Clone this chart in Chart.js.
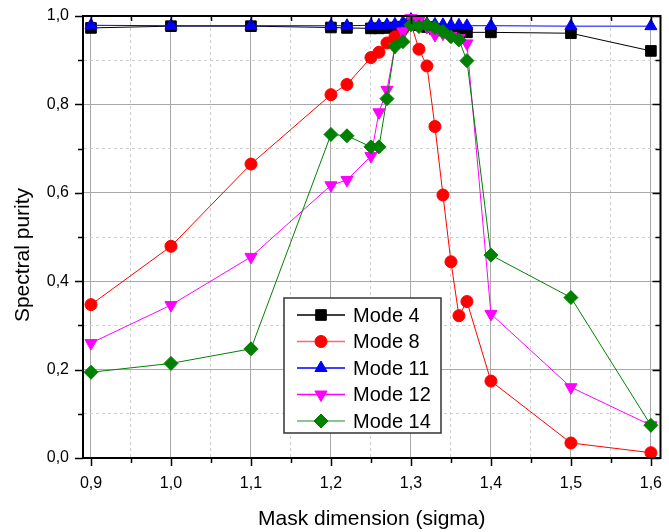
<!DOCTYPE html>
<html>
<head>
<meta charset="utf-8">
<script src="https://cdn.jsdelivr.net/npm/chart.js@4.4.1/dist/chart.umd.min.js"></script>
<style>
  html, body { margin: 0; padding: 0; background: #fff; }
</style>
</head>
<body>
<canvas id="purityChart" width="669" height="532"></canvas>
<script>
// mask dimension (sigma) — shared x values for all modes
const sigma = [0.9, 1.0, 1.1, 1.2, 1.22, 1.25, 1.26, 1.27, 1.28, 1.29, 1.3,
               1.31, 1.32, 1.33, 1.34, 1.35, 1.36, 1.37, 1.4, 1.5, 1.6];

const mode4  = [0.973, 0.977, 0.977, 0.974, 0.973, 0.972, 0.972, 0.973, 0.974, 0.976, 0.982,
                0.979, 0.975, 0.97, 0.967, 0.965, 0.964, 0.963, 0.963, 0.961, 0.921];
const mode8  = [0.347, 0.479, 0.665, 0.822, 0.845, 0.906, 0.918, 0.939, 0.953, 0.97, 0.983,
                0.925, 0.887, 0.75, 0.595, 0.444, 0.322, 0.354, 0.174, 0.034, 0.012];
const mode11 = [0.979, 0.978, 0.978, 0.978, 0.978, 0.979, 0.979, 0.98, 0.981, 0.985, 0.992,
                0.986, 0.982, 0.981, 0.98, 0.979, 0.979, 0.978, 0.978, 0.977, 0.977];
const mode12 = [0.26, 0.346, 0.455, 0.617, 0.629, 0.683, 0.782, 0.833, 0.93, 0.965, 0.995,
                0.99, 0.975, 0.957, 0.96, 0.955, 0.95, 0.938, 0.326, 0.16, 0.074];
const mode14 = [0.194, 0.214, 0.247, 0.732, 0.729, 0.704, 0.704, 0.813, 0.931, 0.942, 0.98,
                0.976, 0.98, 0.974, 0.965, 0.953, 0.946, 0.899, 0.459, 0.363, 0.074];

const seriesNames = ["Mode 4", "Mode 8", "Mode 11", "Mode 12", "Mode 14"];

// tick positions
const xMajor = [0.9, 1.0, 1.1, 1.2, 1.3, 1.4, 1.5, 1.6];
const xMinor = [0.95, 1.05, 1.15, 1.25, 1.35, 1.45, 1.55];
const yMajor = [0, 0.2, 0.4, 0.6, 0.8, 1.0];
const yMinor = [0.1, 0.3, 0.5, 0.7, 0.9];

const FONT = "'Liberation Sans', Arial, sans-serif";

function isIn(v, list) {
  return list.some(m => Math.abs(m - v) < 1e-6);
}
function fmt(v) {
  return v.toFixed(1).replace(".", ",");
}

function makeSet(i, values, color, style, radius, rotation) {
  return {
    label: seriesNames[i],
    data: sigma.map((x, k) => ({ x: x, y: values[k] })),
    borderColor: color,
    backgroundColor: color,
    borderWidth: 1,
    pointStyle: style,
    pointRadius: radius,
    pointHoverRadius: radius,
    pointRotation: rotation || 0,
    pointBorderWidth: 1,
    pointBorderColor: color,
    pointBackgroundColor: color,
    tension: 0,
    clip: false,
    order: 5 - i   // later modes drawn on top
  };
}

const datasets = [
  makeSet(0, mode4,  "#000000", "rect", 7.5),
  makeSet(1, mode8,  "#ff0000", "circle", 6),
  makeSet(2, mode11, "#0000ff", "triangle", 7),
  makeSet(3, mode12, "#ff00ff", "triangle", 7, 180),
  makeSet(4, mode14, "#008000", "rectRot", 7)
];

// frame on top/right, tick marks, axis titles and legend box
const decorPlugin = {
  id: "decor",
  afterDatasetsDraw(chart) {
    const { ctx, chartArea: a, scales } = chart;
    ctx.save();
    ctx.strokeStyle = "#000";
    ctx.lineWidth = 1.5;
    ctx.beginPath();
    xMajor.concat(xMinor).forEach(v => {
      const px = Math.round(scales.x.getPixelForValue(v)) + 0.5;
      const len = isIn(v, xMajor) ? 8 : 5;
      ctx.moveTo(px, a.bottom); ctx.lineTo(px, a.bottom + len);
      ctx.moveTo(px, a.top); ctx.lineTo(px, a.top + len);
    });
    yMajor.concat(yMinor).forEach(v => {
      const py = Math.round(scales.y.getPixelForValue(v)) + 0.5;
      const len = isIn(v, yMajor) ? 8 : 5;
      ctx.moveTo(a.left - len, py); ctx.lineTo(a.left, py);
      ctx.moveTo(a.right - len, py); ctx.lineTo(a.right, py);
    });
    ctx.stroke();

    ctx.lineWidth = 2;
    ctx.strokeRect(a.left, a.top, a.right - a.left, a.bottom - a.top);

    // axis titles
    ctx.fillStyle = "#000";
    ctx.font = "21px " + FONT;
    ctx.textAlign = "center";
    ctx.textBaseline = "alphabetic";
    ctx.fillText("Mask dimension (sigma)", (a.left + a.right) / 2, 525);
    ctx.translate(29, 255);
    ctx.rotate(-Math.PI / 2);
    ctx.fillText("Spectral purity", 0, 0);
    ctx.restore();
  },
  afterDraw(chart) {
    const ctx = chart.ctx;
    const box = { x: 284, y: 298, w: 157, h: 135 };
    ctx.save();
    ctx.fillStyle = "#fff";
    ctx.fillRect(box.x, box.y, box.w, box.h);
    ctx.strokeStyle = "#333";
    ctx.lineWidth = 1.5;
    ctx.strokeRect(box.x, box.y, box.w, box.h);

    chart.data.datasets.forEach((ds, i) => {
      const cy = 315 + i * 26.5;
      ctx.strokeStyle = ds.borderColor;
      ctx.globalAlpha = (i === 1 || i === 4) ? 0.6 : 1;
      ctx.lineWidth = 1.6;
      ctx.beginPath();
      ctx.moveTo(297, cy); ctx.lineTo(345, cy);
      ctx.stroke();
      ctx.globalAlpha = 1;
      ctx.fillStyle = ds.backgroundColor;
      ctx.strokeStyle = ds.borderColor;
      ctx.lineWidth = 1;
      if (Chart.helpers && Chart.helpers.drawPoint) {
        Chart.helpers.drawPoint(ctx, {
          pointStyle: ds.pointStyle,
          radius: ds.pointRadius,
          rotation: ds.pointRotation,
          borderWidth: 1
        }, 321, cy);
      } else {
        ctx.beginPath(); ctx.arc(321, cy, 6, 0, Math.PI * 2); ctx.fill();
      }
      ctx.fillStyle = "#000";
      ctx.font = "20px " + FONT;
      ctx.textAlign = "left";
      ctx.textBaseline = "middle";
      ctx.fillText(ds.label, 353, cy + 1);
    });
    ctx.restore();
  }
};

function gridColor(list) {
  return c => (c.tick && isIn(c.tick.value, list)) ? "#a8a8a8" : "#cfcfcf";
}
function gridDash(list) {
  return c => (c.tick && isIn(c.tick.value, list)) ? [] : [3, 3];
}

new Chart(document.getElementById("purityChart"), {
  type: "line",
  data: { datasets },
  plugins: [decorPlugin],
  options: {
    responsive: false,
    animation: false,
    events: [],
    layout: { padding: { top: 16, right: 4, left: 0, bottom: 0 } },
    plugins: {
      legend: { display: false },
      tooltip: { enabled: false }
    },
    scales: {
      x: {
        type: "linear",
        min: 0.89,
        max: 1.612,
        afterBuildTicks: s => { s.ticks = xMajor.concat(xMinor).sort((a, b) => a - b).map(v => ({ value: v })); },
        afterFit: s => { s.height = 74; s.paddingLeft = 0; s.paddingRight = 0; },
        ticks: {
          autoSkip: false,
          maxRotation: 0,
          padding: 3,
          color: "#000",
          font: { family: FONT, size: 16 },
          callback: v => isIn(v, xMajor) ? fmt(v) : ""
        },
        grid: {
          drawTicks: true,
          tickLength: 13,
          tickColor: "rgba(0,0,0,0)",
          lineWidth: 1,
          color: gridColor(xMajor)
        },
        border: { color: "#000", width: 2, dash: gridDash(xMajor) }
      },
      y: {
        type: "linear",
        min: 0,
        max: 1.0,
        afterBuildTicks: s => { s.ticks = yMajor.concat(yMinor).sort((a, b) => a - b).map(v => ({ value: v })); },
        afterFit: s => { s.width = 83; s.paddingTop = 0; s.paddingBottom = 0; },
        ticks: {
          autoSkip: false,
          padding: 3,
          color: "#000",
          font: { family: FONT, size: 16 },
          callback: v => isIn(v, yMajor) ? fmt(v) : ""
        },
        grid: {
          drawTicks: true,
          tickLength: 11,
          tickColor: "rgba(0,0,0,0)",
          lineWidth: 1,
          color: gridColor(yMajor)
        },
        border: { color: "#000", width: 2, dash: gridDash(yMajor) }
      }
    }
  }
});
</script>
</body>
</html>
